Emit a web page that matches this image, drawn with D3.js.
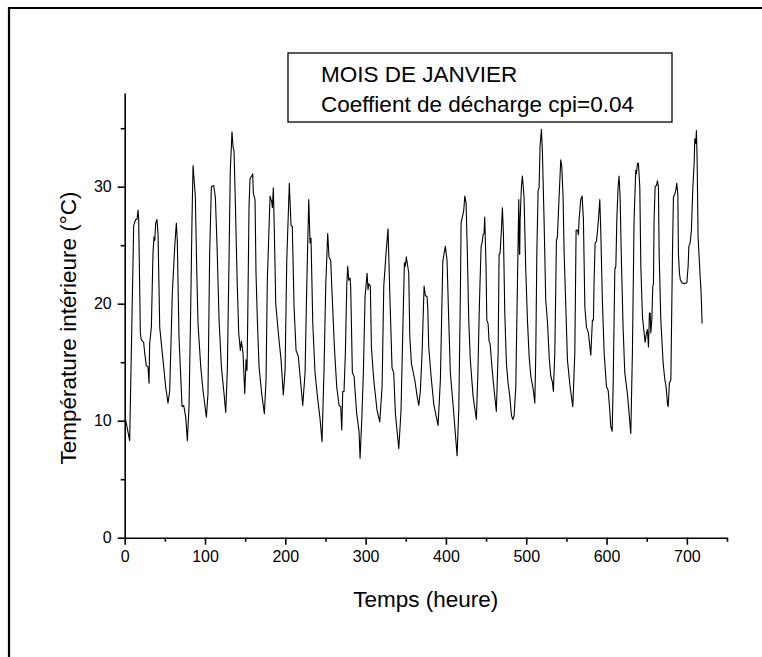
<!DOCTYPE html>
<html>
<head>
<meta charset="utf-8">
<script src="https://cdn.jsdelivr.net/npm/d3@7/dist/d3.min.js"></script>
<style>
body { margin: 0; background: #fff; }
text { font-family: "Liberation Sans", Arial, sans-serif; fill: #000; }
</style>
</head>
<body>
<svg id="chart" width="762" height="657"></svg>
<script>
// hourly trace (vertices of the curve)
var hours = [0.8, 6.2, 11.2, 13.7, 15.3, 16.6, 17.4, 19.5, 20.7, 23.6, 24.9, 26.9, 29.0, 30.3, 31.1, 33.2, 35.2, 36.5, 37.4, 38.6,
  40.2, 41.5, 43.6, 47.7, 51.0, 53.9, 56.0, 59.3, 62.3, 64.3, 65.5, 67.6, 71.4, 73.5, 76.0, 78.0, 80.1, 82.2, 83.8, 85.1,
  88.0, 89.7, 91.3, 94.7, 97.5, 101.7, 103.7, 105.8, 107.9, 110.8, 112.9, 115.0, 117.5, 120.4, 123.7, 125.8, 127.8, 129.9, 131.5, 133.6,
  134.9, 136.1, 137.8, 140.2, 142.0, 144.0, 145.3, 147.3, 149.5, 151.1, 152.3, 153.2, 154.8, 156.1, 158.2, 159.4, 160.2, 162.3, 163.5, 165.2,
  167.3, 170.6, 173.9, 176.0, 177.6, 181.0, 183.1, 183.9, 185.1, 186.3, 188.1, 191.3, 194.7, 197.5, 199.7, 201.8, 205.0, 207.1, 208.7, 210.9,
  213.4, 216.2, 219.6, 221.7, 224.6, 226.7, 229.2, 230.8, 232.0, 234.2, 237.0, 240.4, 243.2, 245.7, 248.2, 250.3, 252.8, 254.4, 256.5, 258.6,
  261.1, 264.0, 266.9, 269.0, 270.3, 271.5, 273.1, 274.8, 276.5, 277.7, 279.0, 280.6, 281.4, 283.5, 285.6, 288.9, 291.8, 293.1, 295.2, 297.2,
  299.3, 301.8, 303.0, 303.9, 305.9, 307.2, 310.1, 314.2, 317.6, 320.5, 322.6, 325.4, 327.9, 330.1, 332.9, 335.0, 337.1, 341.3, 344.1, 346.6,
  348.3, 349.5, 350.7, 352.5, 353.7, 355.0, 357.0, 361.2, 364.1, 366.2, 368.2, 370.3, 372.8, 374.4, 376.5, 377.4, 378.6, 381.5, 384.9, 390.2,
  393.1, 396.1, 397.7, 399.3, 401.4, 403.5, 405.5, 409.8, 413.9, 416.0, 418.0, 418.9, 420.1, 422.2, 423.5, 425.1, 426.7, 428.4, 430.4, 433.8,
  437.9, 439.7, 441.7, 443.8, 445.0, 446.3, 447.5, 448.3, 448.9, 450.0, 450.9, 452.5, 453.7, 455.0, 456.6, 458.7, 460.8, 462.8, 465.0, 466.2,
  467.4, 469.1, 470.3, 471.6, 473.3, 475.3, 477.4, 479.5, 481.5, 483.2, 484.9, 487.0, 489.0, 490.7, 491.5, 491.9, 492.4, 494.0, 495.2, 497.3,
  499.4, 501.5, 503.6, 505.7, 508.9, 510.7, 511.9, 513.2, 514.8, 516.0, 517.2, 518.9, 520.1, 522.2, 524.3, 526.3, 528.8, 530.6, 532.6, 533.8,
  535.6, 537.6, 538.8, 540.9, 543.0, 544.3, 545.9, 547.2, 549.3, 551.3, 554.6, 558.0, 560.5, 562.1, 563.7, 565.0, 565.8, 567.9, 569.6, 571.2,
  573.0, 575.0, 577.4, 580.4, 582.4, 583.7, 584.5, 585.8, 587.4, 588.7, 589.9, 591.6, 592.9, 594.8, 597.0, 599.9, 602.0, 603.7, 605.3, 607.0,
  608.2, 610.3, 611.6, 612.8, 614.4, 615.6, 616.9, 618.5, 620.6, 622.7, 626.0, 628.1, 630.2, 632.2, 634.3, 636.4, 637.2, 638.5, 639.7, 641.4,
  642.7, 644.7, 646.8, 648.0, 649.7, 650.9, 652.2, 653.4, 654.3, 655.1, 656.4, 657.6, 658.4, 659.2, 660.5, 662.1, 663.4, 664.6, 665.5, 667.6,
  670.5, 672.6, 674.2, 675.9, 676.7, 678.3, 680.1, 682.1, 683.3, 685.1, 686.3, 687.5, 688.8, 689.5, 690.8, 692.0, 694.0, 697.0, 700.0, 701.6,
  702.5, 704.1, 705.7, 707.5, 709.1, 709.9, 711.2, 711.9, 712.8, 714.0, 716.1, 717.8, 719.0];

var temps = [10.2, 8.3, 26.7, 27.2, 27.2, 28.0, 27.2, 17.5, 16.9, 16.7, 15.8, 14.7, 14.6, 13.2, 16.6, 18.0, 24.3, 25.7, 25.4, 26.9,
  27.2, 26.0, 18.0, 15.2, 12.9, 11.5, 12.5, 20.9, 24.9, 26.9, 25.4, 17.2, 11.2, 11.3, 10.3, 8.3, 11.2, 19.7, 27.2, 31.8,
  29.1, 22.9, 18.3, 14.6, 12.6, 10.3, 12.3, 24.3, 30.0, 30.1, 29.1, 24.9, 18.6, 14.6, 12.3, 10.7, 14.3, 23.7, 31.4, 34.7,
  33.4, 33.1, 28.6, 21.5, 17.5, 16.0, 16.8, 15.8, 12.3, 15.2, 14.3, 18.6, 28.3, 30.7, 30.9, 31.1, 29.4, 28.9, 22.6, 18.6,
  14.6, 12.3, 10.6, 13.5, 22.0, 29.2, 28.7, 28.2, 29.9, 26.3, 20.0, 17.5, 15.2, 12.2, 14.3, 23.7, 30.3, 26.7, 26.6, 19.7,
  16.0, 15.5, 12.9, 11.3, 14.1, 21.5, 28.9, 25.2, 25.6, 18.3, 14.1, 11.8, 10.2, 8.2, 14.3, 21.5, 26.0, 24.0, 23.7, 20.3,
  16.3, 12.9, 11.3, 11.2, 9.2, 12.5, 12.5, 15.8, 21.5, 23.2, 22.0, 22.2, 21.5, 14.1, 13.8, 10.6, 9.1, 6.8, 10.1, 14.1,
  20.6, 22.6, 21.2, 21.7, 21.5, 16.3, 13.5, 10.9, 9.9, 12.9, 21.5, 24.3, 26.4, 20.9, 14.5, 14.1, 10.6, 7.6, 10.9, 18.6,
  23.5, 23.2, 24.0, 23.2, 22.6, 17.2, 14.9, 13.5, 12.1, 11.3, 12.6, 15.8, 21.5, 20.7, 20.6, 19.6, 16.3, 13.8, 11.4, 9.6,
  13.5, 23.6, 24.3, 24.9, 23.7, 18.6, 14.1, 10.6, 7.0, 10.9, 20.9, 26.9, 27.3, 28.0, 29.2, 28.6, 24.3, 18.6, 15.2, 12.1,
  10.1, 13.8, 20.0, 24.9, 25.2, 25.9, 26.0, 27.4, 25.9, 23.0, 18.6, 18.3, 16.8, 16.6, 15.2, 13.5, 12.1, 10.8, 15.8, 24.2,
  24.3, 26.3, 28.2, 26.0, 19.2, 14.9, 13.2, 12.1, 10.5, 10.1, 10.4, 12.9, 21.5, 28.9, 24.3, 24.2, 27.2, 30.0, 30.9, 29.1,
  22.9, 18.6, 15.5, 13.8, 12.6, 11.5, 15.8, 24.3, 29.7, 29.9, 33.4, 34.9, 33.1, 27.2, 20.3, 18.6, 15.2, 13.8, 13.3, 12.5,
  15.8, 25.4, 25.7, 29.1, 32.3, 31.7, 29.1, 24.3, 19.7, 15.2, 12.9, 11.2, 15.8, 26.3, 26.3, 25.9, 27.2, 28.9, 29.2, 27.2,
  19.7, 18.0, 17.5, 15.6, 18.6, 18.6, 22.0, 25.2, 25.3, 26.2, 27.2, 28.9, 26.0, 20.3, 15.8, 12.9, 12.6, 11.2, 9.5, 9.1,
  12.9, 22.9, 23.2, 27.2, 30.0, 30.9, 29.1, 23.7, 18.0, 14.1, 12.3, 10.6, 8.9, 15.8, 27.2, 31.4, 31.1, 32.0, 32.0, 30.0,
  23.2, 18.9, 17.5, 16.7, 17.5, 17.8, 16.3, 19.2, 19.2, 17.5, 18.6, 21.5, 21.7, 27.2, 30.0, 30.1, 30.5, 30.0, 24.3, 18.6,
  14.9, 13.5, 12.9, 11.4, 11.2, 13.2, 13.5, 24.3, 29.1, 29.4, 29.7, 30.3, 29.3, 24.3, 22.6, 22.0, 21.8, 21.7, 21.8, 23.2,
  24.9, 25.2, 26.3, 30.0, 32.0, 34.1, 33.7, 34.8, 32.3, 25.7, 22.9, 20.9, 18.3];

var xMajorTicks = [0, 100, 200, 300, 400, 500, 600, 700];
var xMinorTicks = [50, 150, 250, 350, 450, 550, 650, 750];
var yMajorTicks = [0, 10, 20, 30];
var yMinorTicks = [5, 15, 25, 35];
var legendLines = ["MOIS DE JANVIER", "Coeffient de décharge cpi=0.04"];
var xTitle = "Temps (heure)";
var yTitle = "Température intérieure (°C)";

var svg = d3.select('#chart');

// outer frame of the figure (right and bottom edges fall outside the picture)
svg.append('path')
  .attr('d', 'M9,657 L9,8 L762,8')
  .attr('fill', 'none')
  .attr('stroke', '#000')
  .attr('stroke-width', 2.2);

var x = d3.scaleLinear().domain([0, 750]).range([124.7, 727]);
var y = d3.scaleLinear().domain([0, 38]).range([537.7, 93.1]);

// x axis
var xAxis = svg.append('g').attr('transform', 'translate(0,537.7)');
xAxis.call(d3.axisBottom(x).tickValues(xMajorTicks).tickSize(7).tickSizeOuter(0).tickPadding(6));
svg.append('g').attr('transform', 'translate(0,537.7)')
  .call(d3.axisBottom(x).tickValues(xMinorTicks).tickSize(4).tickSizeOuter(0).tickFormat(''))
  .select('.domain').remove();

// y axis
var yAxis = svg.append('g').attr('transform', 'translate(124.7,0)');
yAxis.call(d3.axisLeft(y).tickValues(yMajorTicks).tickSize(7).tickSizeOuter(0).tickPadding(6));
svg.append('g').attr('transform', 'translate(124.7,0)')
  .call(d3.axisLeft(y).tickValues(yMinorTicks).tickSize(4).tickSizeOuter(0).tickFormat(''))
  .select('.domain').remove();

svg.selectAll('.domain, .tick line').attr('stroke', '#000').attr('stroke-width', 1.6);
svg.selectAll('.tick text').style('font-size', '16px').style('font-family', '"Liberation Sans", Arial, sans-serif').attr('fill', '#000');

// axis titles
svg.append('text')
  .attr('x', (x.range()[0] + x.range()[1]) / 2)
  .attr('y', 607)
  .attr('text-anchor', 'middle')
  .style('font-size', '22.5px')
  .text(xTitle);

svg.append('text')
  .attr('transform', 'translate(76,' + 328 + ') rotate(-90)')
  .attr('text-anchor', 'middle')
  .style('font-size', '22.5px')
  .text(yTitle);

// the curve
var pts = hours.map(function(h, i) { return [h, temps[i]]; });
var line = d3.line().x(function(d) { return x(d[0]); }).y(function(d) { return y(d[1]); });
svg.append('path')
  .datum(pts)
  .attr('d', line)
  .attr('fill', 'none')
  .attr('stroke', '#000')
  .attr('stroke-width', 1.1)
  .attr('stroke-linejoin', 'round');

// legend box
var legend = svg.append('g');
legend.append('rect')
  .attr('x', 288).attr('y', 53).attr('width', 384).attr('height', 69)
  .attr('fill', '#fff')
  .attr('stroke', '#000')
  .attr('stroke-width', 1.3);
legend.selectAll('text.leg')
  .data(legendLines)
  .enter()
  .append('text')
  .attr('class', 'leg')
  .attr('x', 321)
  .attr('y', function(d, i) { return 82 + i * 30; })
  .style('font-size', '22.5px')
  .text(function(d) { return d; });
</script>
</body>
</html>
